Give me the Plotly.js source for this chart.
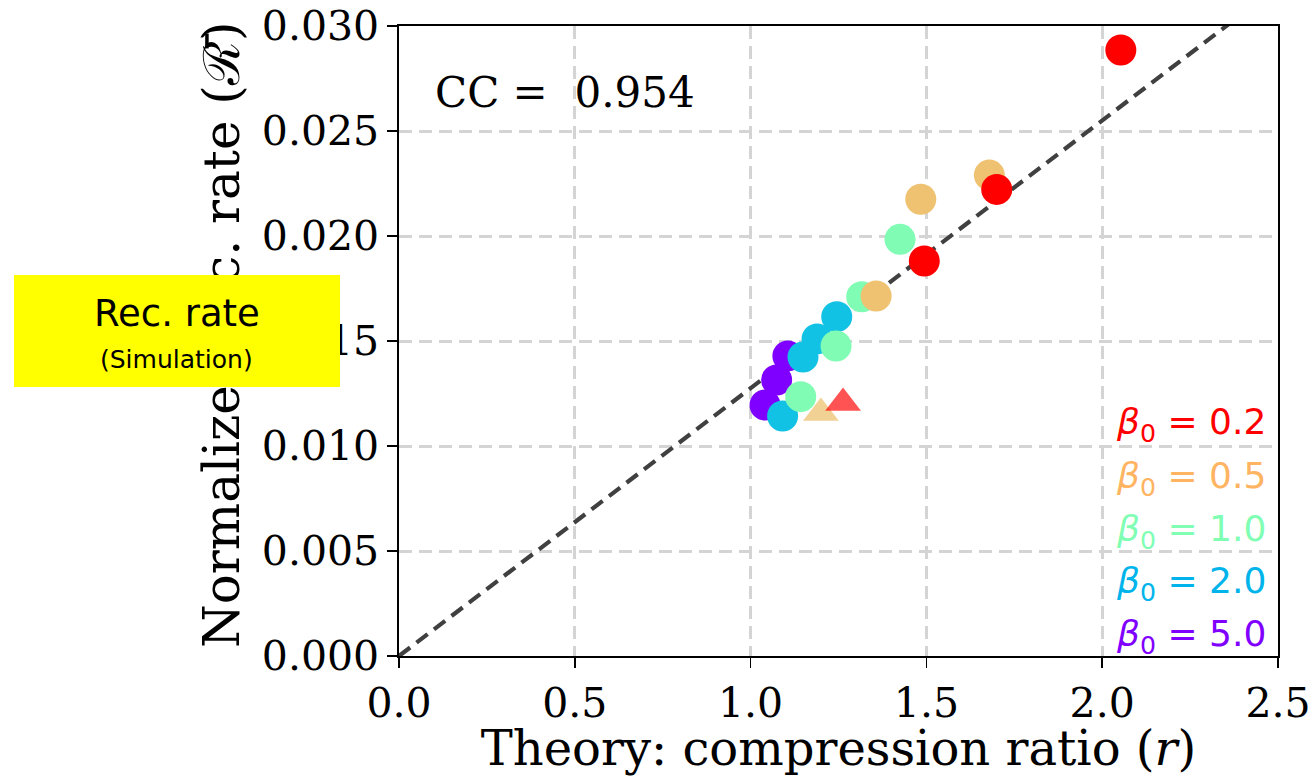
<!DOCTYPE html>
<html>
<head>
<meta charset="utf-8">
<script src="https://cdn.plot.ly/plotly-3.0.1.min.js"></script>
<style>html,body{margin:0;padding:0;background:#fff;}</style>
</head>
<body>
<div id="chart" style="width:1315px;height:776px;"></div>
<script>
// Data
const fitX = [0, 2.5];
const fitY = [0, 0.031875];

const beta02X = [2.053, 1.700, 1.494];
const beta02Y = [0.02886, 0.02222, 0.01881];
const beta05X = [1.679, 1.484, 1.357];
const beta05Y = [0.02290, 0.02175, 0.01714];
const beta10X = [1.425, 1.316, 1.243, 1.1425];
const beta10Y = [0.01984, 0.01711, 0.01476, 0.01235];
const beta20X = [1.245, 1.189, 1.149, 1.091];
const beta20Y = [0.01616, 0.01510, 0.01424, 0.01143];
const beta50X = [1.106, 1.074, 1.041];
const beta50Y = [0.01429, 0.01314, 0.01195];

const triRedX = [1.263];
const triRedY = [0.01205];
const triOrangeX = [1.200];
const triOrangeY = [0.01157];

const legendLabels = ['0.2', '0.5', '1.0', '2.0', '5.0'];
const legendColors = ['#ff0000', '#ffb462', '#80ffb4', '#00b4eb', '#8000ff'];
const ccValue = '0.954';

const xTicks = [0, 0.5, 1.0, 1.5, 2.0, 2.5];
const yTicks = [0, 0.005, 0.010, 0.015, 0.020, 0.025, 0.030];

const circ = (x, y, color) => ({
  x: x, y: y, type: 'scatter', mode: 'markers', showlegend: false, cliponaxis: false,
  marker: {symbol: 'circle', size: 31, color: color, line: {width: 0}}
});
const tri = (x, y, color) => ({
  x: x, y: y, type: 'scatter', mode: 'markers', showlegend: false, cliponaxis: false,
  marker: {symbol: 'triangle-up', size: 31, color: color, line: {width: 0}}
});

const traces = [
  {x: fitX, y: fitY, type: 'scatter', mode: 'lines', showlegend: false,
   line: {color: '#404040', width: 4.2, dash: '14px,8px'}},
  circ(beta50X, beta50Y, '#7f00ff'),
  circ(beta20X, beta20Y, '#12c2e4'),
  circ(beta10X, beta10Y, '#80fcb4'),
  circ(beta05X, beta05Y, '#eec271'),
  circ(beta02X, beta02Y, '#ff0000'),
  tri(triOrangeX, triOrangeY, 'rgba(238,194,113,0.75)'),
  tri(triRedX, triRedY, 'rgba(255,0,0,0.68)')
];

const legendY = [0.368, 0.282, 0.198, 0.115, 0.031];
const annotations = legendLabels.map((lab, i) => ({
  xref: 'paper', yref: 'paper', x: 0.989, y: legendY[i],
  xanchor: 'right', yanchor: 'middle', showarrow: false,
  text: '<i>β</i><sub>0</sub> = ' + lab,
  font: {family: 'DejaVu Sans', size: 36, color: legendColors[i]}
}));
annotations.push({
  xref: 'paper', yref: 'paper', x: 0.039, y: 0.894, xanchor: 'left', yanchor: 'middle',
  showarrow: false, text: 'CC = \u00a0' + ccValue,
  font: {family: 'DejaVu Serif', size: 42, color: '#000'}
});
// y-axis title (drawn as annotation so the yellow label box can sit over it)
annotations.push({
  xref: 'paper', yref: 'paper', x: -0.2014, y: 0.5095, xanchor: 'center', yanchor: 'middle',
  showarrow: false, textangle: -90, text: 'Normalized rec. rate (\u211B\u0304)',
  font: {family: 'DejaVu Serif', size: 50, color: '#000'}
});
// yellow label box
annotations.push({
  xref: 'paper', yref: 'paper', x: -0.2526, y: 0.5159, xanchor: 'center', yanchor: 'middle',
  showarrow: false, text: '\u00a0', width: 326, height: 112, borderpad: 0, borderwidth: 0,
  bgcolor: '#ffff00', font: {size: 10, color: '#ffff00'}
});
annotations.push({
  xref: 'paper', yref: 'paper', x: -0.2526, y: 0.543, xanchor: 'center', yanchor: 'middle',
  showarrow: false, text: 'Rec. rate',
  font: {family: 'Comic Sans MS, DejaVu Sans', size: 37, color: '#000'}
});
annotations.push({
  xref: 'paper', yref: 'paper', x: -0.2526, y: 0.470, xanchor: 'center', yanchor: 'middle',
  showarrow: false, text: '(Simulation)',
  font: {family: 'Comic Sans MS, DejaVu Sans', size: 25, color: '#000'}
});

const layout = {
  width: 1315, height: 776,
  margin: {l: 399, r: 37, t: 26, b: 120, pad: 0},
  paper_bgcolor: '#fff', plot_bgcolor: '#fff',
  showlegend: false,
  xaxis: {
    range: [0, 2.5], tickvals: xTicks, tickformat: '.1f',
    showline: true, linecolor: '#000', linewidth: 1.6, mirror: true,
    ticks: 'outside', ticklen: 10, tickwidth: 1.6, tickcolor: '#000',
    showgrid: true, gridcolor: '#d4d4d4', gridwidth: 3, griddash: '13px,7px',
    zeroline: false,
    tickfont: {family: 'DejaVu Serif', size: 41, color: '#000'},
    title: {text: 'Theory: compression ratio (<i>r</i>)', standoff: 12,
            font: {family: 'DejaVu Serif', size: 48, color: '#000'}}
  },
  yaxis: {
    range: [0, 0.030], tickvals: yTicks, tickformat: '.3f',
    showline: true, linecolor: '#000', linewidth: 1.6, mirror: true,
    ticks: 'outside', ticklen: 10, tickwidth: 1.6, tickcolor: '#000',
    showgrid: true, gridcolor: '#d4d4d4', gridwidth: 3, griddash: '13px,7px',
    zeroline: false,
    tickfont: {family: 'DejaVu Serif', size: 41, color: '#000'}
  },
  annotations: annotations
};

Plotly.newPlot('chart', traces, layout, {displayModeBar: false, staticPlot: true});
</script>
</body>
</html>
